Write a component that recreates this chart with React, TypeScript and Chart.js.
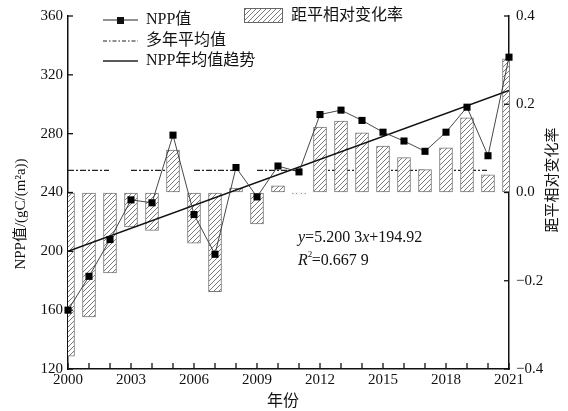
import React, { useEffect, useRef } from "react";
import { Chart, registerables } from "chart.js";

Chart.register(...registerables);

const years = [2000, 2001, 2002, 2003, 2004, 2005, 2006, 2007, 2008, 2009, 2010, 2011, 2012, 2013, 2014, 2015, 2016, 2017, 2018, 2019, 2020, 2021];
const nppValues = [160, 183, 208, 235, 233, 279, 225, 198, 257, 237, 258, 254, 293, 296, 289, 281, 275, 268, 281, 298, 265, 332];
const anomalyRates = [-0.371, -0.282, -0.182, -0.078, -0.086, 0.096, -0.115, -0.225, 0.01, -0.071, 0.015, -0.003, 0.148, 0.162, 0.135, 0.105, 0.079, 0.052, 0.101, 0.169, 0.04, 0.303];
const meanYears = [2000, 2021];
const meanValues = [255, 255];
const trendYears = [2000, 2021];
const trendValues = [200.1, 309.3];
const leftTicks = [120, 160, 200, 240, 280, 320, 360];
const rightTicks = [-0.4, -0.2, 0, 0.2, 0.4];
const xLabelYears = [2000, 2003, 2006, 2009, 2012, 2015, 2018, 2021];

const SERIF = "'Liberation Serif', 'Noto Sans CJK SC', serif";
const MEAN_DASH = [6, 2, 2, 2, 6, 2, 2, 2, 6, 2, 2, 2, 5, 22];

function makeHatch(): CanvasPattern | string {
  const c = document.createElement("canvas");
  const s = 5;
  c.width = s;
  c.height = s;
  const g = c.getContext("2d");
  if (!g) return "#fff";
  g.fillStyle = "#fff";
  g.fillRect(0, 0, s, s);
  g.strokeStyle = "#6a6a6a";
  g.lineWidth = 0.9;
  g.beginPath();
  g.moveTo(-1, s + 1);
  g.lineTo(s + 1, -1);
  g.moveTo(-1, 1);
  g.lineTo(1, -1);
  g.moveTo(s - 1, s + 1);
  g.lineTo(s + 1, s - 1);
  g.stroke();
  const p = g.createPattern(c, "repeat");
  return p || "#fff";
}

export default function App() {
  const ref = useRef<HTMLCanvasElement | null>(null);

  useEffect(() => {
    const canvas = ref.current;
    if (!canvas) return;
    const hatch = makeHatch();

    const overlay = {
      id: "overlay",
      afterDraw(chart: any) {
        const ctx: CanvasRenderingContext2D = chart.ctx;
        const { left, right, bottom } = chart.chartArea;
        const xs = chart.scales.x;
        const yl = chart.scales.y;
        const yr = chart.scales.y1;
        ctx.save();
        ctx.strokeStyle = "#111";
        ctx.lineWidth = 1.3;
        const seg = (x1: number, y1: number, x2: number, y2: number) => {
          ctx.beginPath();
          ctx.moveTo(x1, y1);
          ctx.lineTo(x2, y2);
          ctx.stroke();
        };
        years.forEach((yv) => {
          const px = xs.getPixelForValue(yv);
          seg(px, bottom, px, bottom - 6);
        });
        leftTicks.forEach((v) => {
          const py = yl.getPixelForValue(v);
          seg(left, py, left + 5, py);
        });
        rightTicks.forEach((v) => {
          const py = yr.getPixelForValue(v);
          seg(right, py, right - 5, py);
        });

        // Legend
        ctx.fillStyle = "#111";
        ctx.textBaseline = "middle";
        ctx.textAlign = "left";
        ctx.font = `16px ${SERIF}`;
        ctx.lineWidth = 1;
        ctx.strokeStyle = "#222";
        seg(103, 20, 138, 20);
        ctx.fillRect(117, 17, 7, 7);
        ctx.fillText("NPP值", 146, 20);

        ctx.setLineDash([4, 2, 1.5, 2]);
        ctx.lineWidth = 1.2;
        seg(103, 41, 138, 41);
        ctx.setLineDash([]);
        ctx.fillText("多年平均值", 146, 41);

        ctx.lineWidth = 1.5;
        seg(103, 61, 138, 61);
        ctx.fillText("NPP年均值趋势", 146, 61);

        ctx.fillStyle = hatch as any;
        ctx.fillRect(244, 8, 38, 14);
        ctx.strokeStyle = "#666";
        ctx.lineWidth = 1;
        ctx.strokeRect(244.5, 8.5, 38, 14);
        ctx.fillStyle = "#111";
        ctx.fillText("距平相对变化率", 291, 16);

        // Regression text
        const drawRuns = (runs: [string, string][], x: number, y: number) => {
          let cx = x;
          runs.forEach(([t, f]) => {
            ctx.font = f;
            ctx.fillText(t, cx, y);
            cx += ctx.measureText(t).width;
          });
        };
        ctx.textBaseline = "alphabetic";
        const reg = `16px ${SERIF}`;
        const ita = `italic 16px ${SERIF}`;
        drawRuns([["y", ita], ["=5.200 3", reg], ["x", ita], ["+194.92", reg]], 298, 242);
        ctx.font = ita;
        ctx.fillText("R", 298, 265);
        const rw = ctx.measureText("R").width;
        ctx.font = `9px ${SERIF}`;
        ctx.fillText("2", 298 + rw, 257);
        ctx.font = reg;
        ctx.fillText("=0.667 9", 298 + rw + 4, 265);

        // Axis titles
        ctx.textAlign = "center";
        ctx.textBaseline = "middle";
        ctx.font = `15px ${SERIF}`;
        ctx.save();
        ctx.translate(21, 214);
        ctx.rotate(-Math.PI / 2);
        ctx.fillText("NPP值/(gC/(m²a))", 0, 0);
        ctx.restore();

        ctx.save();
        ctx.translate(553, 180);
        ctx.rotate(-Math.PI / 2);
        ctx.font = `15px ${SERIF}`;
        ctx.fillText("距平相对变化率", 0, 0);
        ctx.restore();

        ctx.font = `16px ${SERIF}`;
        ctx.fillText("年份", 283, 402);
        ctx.restore();
      },
    };

    const chart = new Chart(canvas, {
      type: "bar",
      data: {
        datasets: [
          {
            type: "line",
            label: "NPP值",
            data: years.map((x, i) => ({ x, y: nppValues[i] })),
            xAxisID: "x",
            yAxisID: "y",
            borderColor: "#333",
            borderWidth: 0.9,
            pointStyle: "rect",
            pointRadius: 5,
            pointBackgroundColor: "#000",
            pointBorderColor: "#000",
            pointBorderWidth: 0,
            tension: 0,
            clip: false,
            order: 0,
          } as any,
          {
            type: "line",
            label: "NPP年均值趋势",
            data: trendYears.map((x, i) => ({ x, y: trendValues[i] })),
            xAxisID: "x",
            yAxisID: "y",
            borderColor: "#111",
            borderWidth: 1.5,
            pointRadius: 0,
            order: 1,
          } as any,
          {
            type: "bar",
            label: "距平相对变化率",
            data: years.map((x, i) => ({ x, y: anomalyRates[i] })),
            xAxisID: "x",
            yAxisID: "y1",
            backgroundColor: hatch as any,
            borderColor: "#777",
            borderWidth: 1,
            borderSkipped: false,
            barThickness: 13,
            order: 2,
          } as any,
          {
            type: "line",
            label: "多年平均值",
            data: meanYears.map((x, i) => ({ x, y: meanValues[i] })),
            xAxisID: "x",
            yAxisID: "y",
            borderColor: "#222",
            borderWidth: 1.2,
            borderDash: MEAN_DASH,
            pointRadius: 0,
            order: 3,
          } as any,
        ],
      },
      options: {
        animation: false,
        responsive: false,
        devicePixelRatio: 1,
        layout: { padding: { top: 13, left: 0, right: 0, bottom: 0 } },
        plugins: { legend: { display: false }, tooltip: { enabled: false } },
        scales: {
          x: {
            type: "linear",
            offset: false,
            min: 2000,
            max: 2021,
            afterBuildTicks: (s: any) => {
              s.ticks = xLabelYears.map((v) => ({ value: v }));
            },
            afterFit: (s: any) => {
              s.height = 42;
            },
            ticks: {
              callback: (v: any) => String(v),
              color: "#111",
              font: { family: SERIF, size: 15 },
              padding: 2,
              maxRotation: 0,
              autoSkip: false,
            },
            grid: { drawOnChartArea: false, drawTicks: false, offset: false },
            border: { display: true, color: "#111", width: 1.5 },
          },
          y: {
            type: "linear",
            position: "left",
            min: 120,
            max: 360,
            afterBuildTicks: (s: any) => {
              s.ticks = leftTicks.map((v) => ({ value: v }));
            },
            afterFit: (s: any) => {
              s.width = 68;
            },
            ticks: {
              color: "#111",
              font: { family: SERIF, size: 15 },
              padding: 5,
            },
            grid: { drawOnChartArea: false, drawTicks: false },
            border: { display: true, color: "#111", width: 1.5 },
          },
          y1: {
            type: "linear",
            position: "right",
            min: -0.4,
            max: 0.4,
            afterBuildTicks: (s: any) => {
              s.ticks = rightTicks.map((v) => ({ value: v }));
            },
            afterFit: (s: any) => {
              s.width = 59;
            },
            ticks: {
              color: "#111",
              font: { family: SERIF, size: 15 },
              padding: 7,
              callback: (v: any) => {
                const n = Number(v);
                const t = Math.abs(n).toFixed(1);
                return n < -1e-9 ? "−" + t : t;
              },
            },
            grid: { drawOnChartArea: false, drawTicks: false },
            border: { display: true, color: "#111", width: 1.5 },
          },
        },
      } as any,
      plugins: [overlay],
    });

    return () => chart.destroy();
  }, []);

  return (
    <div style={{ position: "fixed", left: 0, top: 0, width: 568, height: 411, background: "#fff" }}>
      <canvas ref={ref} width={568} height={411} style={{ display: "block" }} />
    </div>
  );
}
